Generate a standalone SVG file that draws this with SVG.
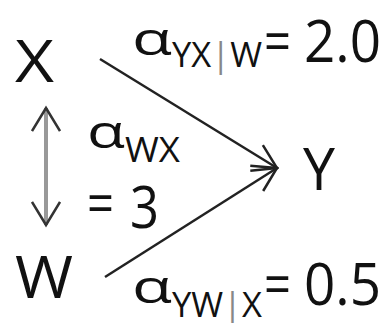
<svg xmlns="http://www.w3.org/2000/svg" width="387" height="323" viewBox="0 0 387 323">
<style>
text{font-family:"Open Sans","Liberation Sans",sans-serif;fill:#111}
.big{font-size:58px}
.al{font-size:46px}
.sub{font-size:34px}
.bar{fill:#888}
.conn{stroke:#222;stroke-width:2.5;fill:none}
.dbl{stroke:#999;stroke-width:4;fill:none}
</style>
<defs>
<marker id="ah" viewBox="0 0 30 30" refX="28" refY="15" markerWidth="30" markerHeight="30" markerUnits="userSpaceOnUse" orient="auto">
<path d="M4,3 L28,15 L4,27" fill="none" stroke="#222" stroke-width="2.5"/>
</marker>
<marker id="ah2" viewBox="0 0 30 30" refX="27" refY="15" markerWidth="30" markerHeight="30" markerUnits="userSpaceOnUse" orient="auto-start-reverse">
<path d="M4,1 L27,15 L4,29" fill="none" stroke="#333" stroke-width="2.5"/>
</marker>
</defs>
<g id="connectors">
<line class="conn" x1="100" y1="59" x2="277" y2="168" marker-end="url(#ah)"/>
<line class="conn" x1="105" y1="277" x2="277" y2="168" marker-end="url(#ah)"/>
<line class="dbl" x1="46" y1="108" x2="46" y2="225" marker-start="url(#ah2)" marker-end="url(#ah2)"/>
</g>
<g id="X"><text class="big" x="15" y="82" textLength="39" lengthAdjust="spacingAndGlyphs">X</text></g>
<g id="Y"><text class="big" x="303" y="190" textLength="32" lengthAdjust="spacingAndGlyphs">Y</text></g>
<g id="W"><text class="big" x="15" y="298" textLength="58" lengthAdjust="spacingAndGlyphs">W</text></g>
<g id="label-yx">
<text class="al" x="132" y="55" textLength="40" lengthAdjust="spacingAndGlyphs">α</text>
<text class="sub" x="172" y="67" textLength="90" lengthAdjust="spacingAndGlyphs"><tspan>YX</tspan><tspan class="bar">|</tspan><tspan>W</tspan></text>
<text class="big" x="264" y="62" textLength="27" lengthAdjust="spacingAndGlyphs">=</text>
<text class="big" x="304" y="62" textLength="77" lengthAdjust="spacingAndGlyphs">2.0</text>
</g>
<g id="label-wx">
<text class="al" x="87" y="148" textLength="38" lengthAdjust="spacingAndGlyphs">α</text>
<text class="sub" x="125" y="162" textLength="55" lengthAdjust="spacingAndGlyphs">WX</text>
<text class="big" x="87" y="224" textLength="27" lengthAdjust="spacingAndGlyphs">=</text>
<text class="big" x="130" y="228" textLength="29" lengthAdjust="spacingAndGlyphs">3</text>
</g>
<g id="label-yw">
<text class="al" x="132" y="303" textLength="40" lengthAdjust="spacingAndGlyphs">α</text>
<text class="sub" x="172" y="317" textLength="90" lengthAdjust="spacingAndGlyphs"><tspan>YW</tspan><tspan class="bar">|</tspan><tspan>X</tspan></text>
<text class="big" x="264" y="305" textLength="27" lengthAdjust="spacingAndGlyphs">=</text>
<text class="big" x="304" y="305" textLength="77" lengthAdjust="spacingAndGlyphs">0.5</text>
</g>
</svg>
